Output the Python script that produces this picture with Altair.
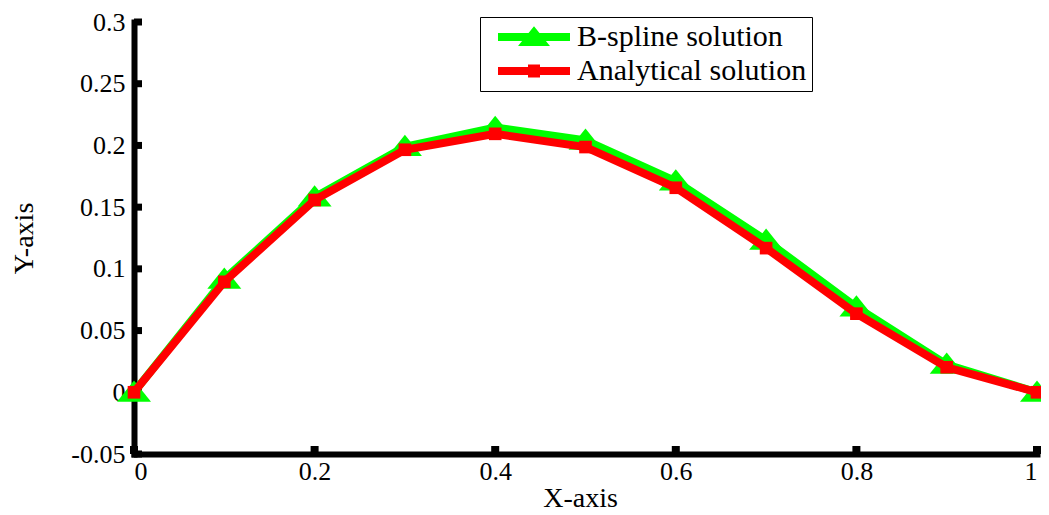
import altair as alt
import pandas as pd

# ---- data ----
x_vals = [0.0, 0.1, 0.2, 0.3, 0.4, 0.5, 0.6, 0.7, 0.8, 0.9, 1.0]
bspline = [0.0, 0.0915, 0.158, 0.199, 0.2145, 0.204, 0.171, 0.123, 0.069, 0.0225, 0.0]
analytical = [0.0, 0.0895, 0.1558, 0.1965, 0.2094, 0.1987, 0.1657, 0.1168, 0.0637, 0.0203, 0.0]
series_names = ["B-spline solution", "Analytical solution"]
series_colors = ["#00ff00", "#ff0000"]
y_ticks = [-0.05, 0.0, 0.05, 0.1, 0.15, 0.2, 0.25, 0.3]
x_ticks = [0.0, 0.2, 0.4, 0.6, 0.8, 1.0]

rows = []
for xv, yv in zip(x_vals, bspline):
    rows.append({"x": xv, "y": yv, "series": series_names[0]})
for xv, yv in zip(x_vals, analytical):
    rows.append({"x": xv, "y": yv, "series": series_names[1]})
df = pd.DataFrame(rows)
df_y_ticks = pd.DataFrame({"v": y_ticks})
df_x_ticks = pd.DataFrame({"v": x_ticks})

FONT = "Liberation Serif"
fmt = "replace(format(datum.value, '~g'), '\u2212', '-')"

x_scale = alt.Scale(domain=[0, 1], nice=False, zero=False)
y_scale = alt.Scale(domain=[-0.05, 0.3], nice=False, zero=False)
color_scale = alt.Scale(domain=series_names, range=series_colors)

tri_path = "M0,-0.7L1,0.55L-1,0.55Z"
legend_paths = [
    "M-3,-0.33L3,-0.33L3,0.33L-3,0.33Z M0,-0.9L1.33,0.75L-1.33,0.75Z",
    "M-3,-0.33L3,-0.33L3,0.33L-3,0.33Z M-0.5,-0.55L0.5,-0.55L0.5,0.55L-0.5,0.55Z",
]

X = alt.X(
    "x:Q",
    scale=x_scale,
    axis=alt.Axis(
        values=x_ticks,
        labelExpr=fmt,
        labelFont=FONT,
        labelFontSize=26,
        labelColor="black",
        labelPadding=4,
        title="X-axis",
        titleFont=FONT,
        titleX=446,
        titleY=52,
        titleBaseline="alphabetic",
    ),
)
Y = alt.Y(
    "y:Q",
    scale=y_scale,
    axis=alt.Axis(
        values=y_ticks,
        labelExpr=fmt,
        labelFont=FONT,
        labelFontSize=26,
        labelColor="black",
        labelPadding=9,
        title="Y-axis",
        titleFont=FONT,
        titleX=-110,
        titleY=216,
        titleBaseline="middle",
    ),
)
C_nolegend = alt.Color("series:N", scale=color_scale, legend=None)

leg = alt.Legend(
    title=None,
    orient="none",
    legendX=346,
    legendY=-5,
    strokeColor="black",
    padding=5,
    symbolOffset=34,
    labelOffset=28,
    symbolSize=576,
    symbolStrokeWidth=0,
    labelFont=FONT,
    labelFontSize=30,
    labelColor="black",
    labelLimit=600,
    rowPadding=4,
    fillColor="white",
)

base = alt.Chart(df)

green = base.transform_filter(alt.datum.series == series_names[0])
red = base.transform_filter(alt.datum.series == series_names[1])

green_line = green.mark_line(strokeWidth=8).encode(x=X, y=Y, color=C_nolegend)
green_pts = green.mark_point(shape=tri_path, filled=True, size=1156, opacity=1).encode(
    x=X, y=Y, color=C_nolegend
)
red_line = red.mark_line(strokeWidth=8).encode(x=X, y=Y, color=C_nolegend)
red_pts = red.mark_square(size=160, opacity=1).encode(x=X, y=Y, color=C_nolegend)

legend_layer = base.transform_filter("false").mark_point(filled=True, opacity=1).encode(
    x=X,
    y=Y,
    color=alt.Color("series:N", scale=color_scale, legend=leg),
    shape=alt.Shape(
        "series:N",
        scale=alt.Scale(domain=series_names, range=legend_paths),
        legend=leg,
    ),
)

left_ticks = alt.Chart(df_y_ticks).mark_rect(
    color="black", xOffset=0, x2Offset=8, yOffset=-3.5, y2Offset=3.5
).encode(
    x=alt.X(datum=0, scale=x_scale),
    x2=alt.X2(datum=0),
    y=alt.Y("v:Q", scale=y_scale),
    y2="v:Q",
)
bottom_ticks = alt.Chart(df_x_ticks).mark_rect(
    color="black", xOffset=-4, x2Offset=4, yOffset=-8, y2Offset=0
).encode(
    x=alt.X("v:Q", scale=x_scale),
    x2="v:Q",
    y=alt.Y(datum=-0.05, scale=y_scale),
    y2=alt.Y2(datum=-0.05),
)

chart = (
    alt.layer(legend_layer, left_ticks, bottom_ticks, green_line, green_pts, red_line, red_pts)
    .properties(
        width=903,
        height=432,
        autosize=alt.AutoSizeParams(type="none"),
        padding={"left": 126, "top": 14, "right": 4, "bottom": 60},
        background="white",
    )
    .configure_view(stroke=None)
    .configure_axis(
        domainColor="black",
        domainWidth=6,
        domainCap="square",
        ticks=False,
        grid=False,
        labelFont=FONT,
        labelFontSize=26,
        labelColor="black",
        titleFont=FONT,
        titleFontSize=28,
        titleFontWeight="normal",
        titleColor="black",
    )
)

chart.save("out.html", embed_options={"renderer": "svg", "actions": False})
